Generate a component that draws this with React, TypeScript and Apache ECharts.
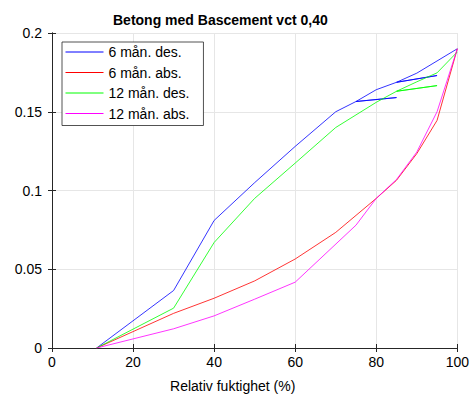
import React, { useEffect, useRef } from "react";
import * as echarts from "echarts";

const titleText = "Betong med Bascement vct 0,40";
const xAxisName = "Relativ fuktighet (%)";
const seriesNames = ["6 mån. des.", "6 mån. abs.", "12 mån. des.", "12 mån. abs."];
const seriesColors = ["#0000ff", "#ff0000", "#00ff00", "#ff00ff"];

const des6X = [11, 30, 40, 50, 60, 70, 75, 85, 75, 80, 85, 95, 85, 90, 100];
const des6Y = [0, 0.0365, 0.081, 0.105, 0.128, 0.15, 0.1565, 0.159, 0.1565, 0.164, 0.1687, 0.173, 0.1687, 0.1745, 0.19];

const abs6X = [11, 30, 40, 50, 60, 70, 80, 85, 90, 95, 100];
const abs6Y = [0, 0.022, 0.0316, 0.0426, 0.0565, 0.0734, 0.095, 0.1065, 0.1234, 0.1445, 0.19];

const des12X = [11, 30, 40, 50, 60, 70, 75, 80, 85, 95, 85, 90, 95, 100];
const des12Y = [0, 0.0253, 0.067, 0.095, 0.1174, 0.14, 0.148, 0.156, 0.163, 0.1666, 0.163, 0.169, 0.1747, 0.188];

const abs12X = [11, 30, 40, 50, 60, 75, 80, 85, 90, 95, 100];
const abs12Y = [0, 0.0122, 0.0204, 0.031, 0.0418, 0.078, 0.095, 0.107, 0.1244, 0.15, 0.19];

const xTicks = [0, 20, 40, 60, 80, 100];
const yTicks = [0, 0.05, 0.1, 0.15, 0.2];

const pairs = (xs: number[], ys: number[]) => xs.map((x, i) => [x, ys[i]]);

export default function App() {
  const ref = useRef<HTMLDivElement>(null);
  useEffect(() => {
    if (!ref.current) return;
    const chart = echarts.init(ref.current, undefined, { renderer: "svg" });
    const font = "'Liberation Sans', Arial, Helvetica, sans-serif";
    const axisColor = "#262626";
    const xMin = xTicks[0];
    const xMax = xTicks[xTicks.length - 1];
    const xInt = xTicks[1] - xTicks[0];
    const yMin = yTicks[0];
    const yMax = yTicks[yTicks.length - 1];
    const yInt = yTicks[1] - yTicks[0];
    const data = [
      pairs(des6X, des6Y),
      pairs(abs6X, abs6Y),
      pairs(des12X, des12Y),
      pairs(abs12X, abs12Y),
    ];
    chart.setOption({
      animation: false,
      textStyle: { fontFamily: font },
      title: {
        text: titleText,
        left: 108,
        top: 8,
        textStyle: { fontFamily: font, fontSize: 14, fontWeight: "bold", color: "#000" },
      },
      legend: {
        orient: "vertical",
        left: 62,
        top: 42,
        data: seriesNames,
        itemWidth: 38,
        itemHeight: 14,
        itemGap: 6.5,
        padding: [3, 14, 5, 3],
        borderColor: "#262626",
        borderWidth: 0.8,
        backgroundColor: "#fff",
        itemStyle: { opacity: 0 },
        lineStyle: { width: 1 },
        textStyle: { fontFamily: font, fontSize: 14, color: "#000", lineHeight: 14 },
      },
      grid: { left: 52, right: 8, top: 33, bottom: 51, containLabel: false },
      xAxis: [
        {
          type: "value",
          min: xMin,
          max: xMax,
          interval: xInt,
          position: "bottom",
          name: xAxisName,
          nameLocation: "middle",
          nameGap: 31,
          nameTextStyle: { fontFamily: font, fontSize: 14, color: "#000", padding: [0, 44, 0, 0] },
          axisLine: { show: true, lineStyle: { color: axisColor, width: 1 } },
          axisTick: { show: true, inside: true, length: 4, lineStyle: { color: axisColor } },
          axisLabel: { fontFamily: font, fontSize: 14, color: "#000", margin: 7 },
          splitLine: { show: true, lineStyle: { color: "#e6e6e6", width: 1 } },
        },
        {
          type: "value",
          min: xMin,
          max: xMax,
          interval: xInt,
          position: "top",
          axisLine: { show: true, lineStyle: { color: axisColor, width: 1 } },
          axisTick: { show: true, inside: true, length: 4, lineStyle: { color: axisColor } },
          axisLabel: { show: false },
          splitLine: { show: false },
        },
      ],
      yAxis: [
        {
          type: "value",
          min: yMin,
          max: yMax,
          interval: yInt,
          position: "left",
          axisLine: { show: true, lineStyle: { color: axisColor, width: 1 } },
          axisTick: { show: true, inside: true, length: 4, lineStyle: { color: axisColor } },
          axisLabel: { fontFamily: font, fontSize: 14, color: "#000", margin: 10 },
          splitLine: { show: true, lineStyle: { color: "#e6e6e6", width: 1 } },
        },
        {
          type: "value",
          min: yMin,
          max: yMax,
          interval: yInt,
          position: "right",
          axisLine: { show: true, lineStyle: { color: axisColor, width: 1 } },
          axisTick: { show: true, inside: true, length: 4, lineStyle: { color: axisColor } },
          axisLabel: { show: false },
          splitLine: { show: false },
        },
      ],
      series: seriesNames.map((name, i) => ({
        name,
        type: "line",
        xAxisIndex: 0,
        yAxisIndex: 0,
        data: data[i],
        symbol: "none",
        showSymbol: false,
        color: seriesColors[i],
        lineStyle: { color: seriesColors[i], width: 0.8 },
      })),
    });
    return () => chart.dispose();
  }, []);
  return <div ref={ref} style={{ width: 472, height: 399, position: "absolute", left: 0, top: 0 }} />;
}
